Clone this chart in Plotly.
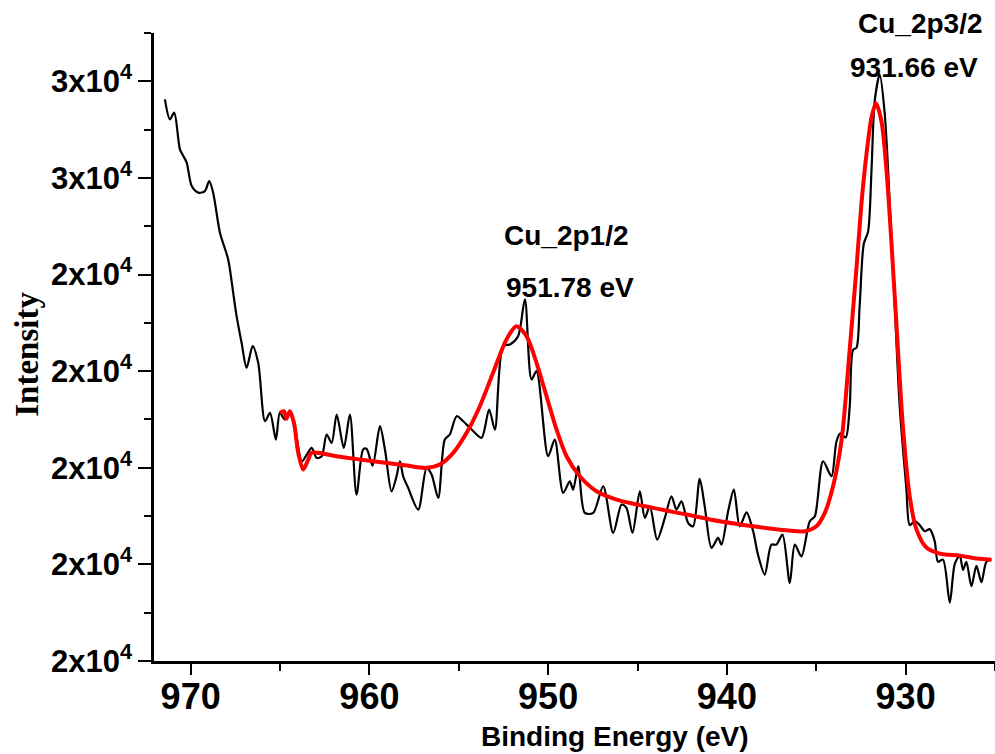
import plotly.graph_objects as go

# Cu 2p XPS spectrum: measured counts (black) and fitted envelope (red)
binding_energy = [
    971.44, 971.16, 970.92, 970.60, 970.41, 970.22, 969.94, 969.57, 969.20, 968.96,
    968.74, 968.36, 967.90, 967.62, 967.43, 967.15, 966.87, 966.53, 966.22, 965.84,
    965.56, 965.23, 965.01, 964.73, 964.45, 964.17, 963.78, 963.50, 963.23, 962.95,
    962.67, 962.39, 962.11, 961.83, 961.43, 961.09, 960.72, 960.35, 960.16, 959.82,
    959.41, 959.13, 958.76, 958.48, 958.29, 958.11, 957.83, 957.27, 956.80, 956.52,
    956.15, 955.78, 955.50, 955.12, 954.75, 954.28, 953.73, 953.30, 952.98, 952.52,
    952.14, 951.68, 951.30, 950.93, 950.65, 950.00, 949.63, 949.16, 948.79, 948.60,
    948.32, 947.95, 947.48, 946.92, 946.36, 945.89, 945.62, 945.28, 944.87, 944.59,
    944.31, 943.90, 943.47, 943.10, 942.82, 942.54, 942.17, 941.89, 941.52, 941.24,
    940.86, 940.49, 940.30, 939.93, 939.61, 939.28, 938.90, 938.53, 938.26, 937.88,
    937.51, 937.23, 936.89, 936.48, 936.20, 935.83, 935.36, 935.08, 934.62, 934.15,
    933.87, 933.65, 933.35, 933.13, 932.94, 932.75, 932.57, 932.34, 932.10, 931.91,
    931.73, 931.45, 931.17, 930.89, 930.61, 930.33, 929.96, 929.77, 929.49, 929.21,
    928.93, 928.65, 928.37, 928.19, 927.91, 927.53, 927.25, 926.97, 926.79, 926.60,
    926.32, 926.04, 925.76, 925.48, 925.20,
]
intensity = [
    27627, 27213, 27352, 26592, 26453, 26316, 25831, 25695, 25728, 25935,
    25695, 24866, 24313, 23623, 23138, 22587, 22070, 22517, 22173, 20963,
    21137, 20584, 21137, 20999, 21137, 20833, 20129, 20274, 20412, 20205,
    20238, 20688, 20516, 21102, 20412, 21102, 19445, 20377, 20392, 20046,
    20860, 20377, 19513, 19824, 20135, 19824, 19584, 19134, 19998, 19859,
    19377, 20584, 20688, 21067, 20963, 20791, 20619, 21206, 20791, 22517,
    22552, 22724, 23484, 21827, 21999, 20238, 20584, 19480, 19720, 19548,
    20031, 19066, 19066, 19617, 18652, 19238, 19169, 18652, 19513, 18962,
    19203, 18513, 18962, 19410, 19134, 19306, 18859, 18788, 19770, 19203,
    18341, 18548, 18409, 19099, 19548, 18788, 19078, 18685, 18202, 17788,
    18409, 18409, 18616, 17616, 18409, 18167, 18892, 18995, 20135, 19824,
    20543, 20713, 20628, 21262, 22442, 22484, 23370, 24636, 24889, 26155,
    27590, 28137, 27337, 25479, 23370, 21262, 19573, 18813, 18898, 18813,
    18687, 18730, 18475, 18055, 18098, 17210, 18011, 18181, 17885, 18055,
    17547, 17970, 17632, 18055, 18098,
]

# Peak positions of the fitted components
PEAK_2P12 = 951.78
PEAK_2P32 = 931.66

fit_energy = [
    965.01, 964.78, 964.64, 964.45, 964.22, 963.98, 963.70, 963.42, 963.23, 961.65,
    959.79, 957.92, 956.80, 956.06, 955.31, 954.56, 953.82, 953.08, 952.33, PEAK_2P12,
    951.21, 950.65, 950.09, 949.53, 948.97, 948.23, 947.29, 946.17, 944.13, 942.26,
    940.40, 938.53, 936.67, 935.64, 934.99, 934.52, 934.06, 933.69, 933.50, 933.13,
    932.75, 932.47, 932.19, 931.91, PEAK_2P32, 931.35, 931.07, 930.79, 930.51, 930.15,
    929.77, 929.40, 928.84, 928.09, 926.97, 926.04, 925.20,
]
fit_intensity = [
    21137, 21170, 21013, 21170, 20930, 20309, 19963, 20170, 20309, 20226,
    20135, 20046, 19998, 20066, 20309, 20723, 21274, 21966, 22656, 22931,
    22724, 22173, 21481, 20791, 20238, 19824, 19513, 19341, 19169, 19031,
    18892, 18788, 18705, 18685, 18788, 19066, 19617, 20309, 20839, 22442,
    24131, 25479, 26492, 27252, 27547, 27168, 26155, 24636, 22948, 20839,
    19403, 18730, 18349, 18223, 18181, 18121, 18098,
]

x_ticks = [970, 960, 950, 940, 930]
x_minor = [965, 955, 945, 935, 925]
y_ticks = [16000, 18000, 20000, 22000, 24000, 26000, 28000]
y_tick_text = ["2x10<sup>4</sup>"] * 5 + ["3x10<sup>4</sup>"] * 2
y_minor = [17000, 19000, 21000, 23000, 25000, 27000, 29000]

SANS = "Liberation Sans, Arial, sans-serif"
SERIF = "Liberation Serif, Times New Roman, serif"

fig = go.Figure()
fig.add_trace(go.Scatter(
    x=binding_energy, y=intensity, mode="lines",
    line=dict(color="black", width=2.2, shape="spline", smoothing=0.8),
    showlegend=False, hoverinfo="skip",
))
fig.add_trace(go.Scatter(
    x=fit_energy, y=fit_intensity, mode="lines",
    line=dict(color="#ff0000", width=4, shape="spline", smoothing=0.8),
    showlegend=False, hoverinfo="skip",
))

fig.update_xaxes(
    range=[972.05, 925.0], tickmode="array", tickvals=x_ticks,
    ticks="outside", ticklen=11, tickwidth=2, tickcolor="black",
    ticklabelstandoff=-9,
    showline=True, linecolor="black", linewidth=2.5,
    showgrid=False, zeroline=False,
    tickfont=dict(family=SANS, size=36, color="black", weight="bold"),
    minor=dict(tickvals=x_minor, ticks="outside", ticklen=7, tickwidth=2,
               tickcolor="black", showgrid=False),
)
fig.update_yaxes(
    range=[16000, 29000], tickmode="array", tickvals=y_ticks, ticktext=y_tick_text,
    ticks="outside", ticklen=13, tickwidth=2, tickcolor="black",
    showline=True, linecolor="black", linewidth=2.5,
    showgrid=False, zeroline=False,
    tickfont=dict(family=SANS, size=31, color="black", weight="bold"),
    minor=dict(tickvals=y_minor, ticks="outside", ticklen=7, tickwidth=2,
               tickcolor="black", showgrid=False),
)

labels = [
    dict(text="Cu_2p1/2", x=0.4905, y=0.6772),
    dict(text=f"{PEAK_2P12:.2f} eV", x=0.4946, y=0.5952),
    dict(text="Cu_2p3/2", x=0.9114, y=1.0148),
    dict(text=f"{PEAK_2P32:.2f} eV", x=0.9037, y=0.9447),
]
for lab in labels:
    fig.add_annotation(
        text=lab["text"], x=lab["x"], y=lab["y"], xref="paper", yref="paper",
        xanchor="center", yanchor="middle", showarrow=False,
        font=dict(family=SANS, size=28, color="black", weight="bold"),
    )

# Axis titles
fig.add_annotation(
    text="Binding Energy (eV)", x=0.548, y=-0.1205, xref="paper", yref="paper",
    xanchor="center", yanchor="middle", showarrow=False,
    font=dict(family=SANS, size=28, color="black", weight="bold"),
)
fig.add_annotation(
    text="Intensity", x=-0.151, y=0.4877, xref="paper", yref="paper",
    xanchor="center", yanchor="middle", showarrow=False, textangle=-90,
    font=dict(family=SERIF, size=33, color="black", weight="bold"),
)

fig.update_layout(
    width=995, height=754,
    margin=dict(l=154, r=0, t=33, b=93),
    paper_bgcolor="white", plot_bgcolor="white",
)

fig.write_html("out.html")
